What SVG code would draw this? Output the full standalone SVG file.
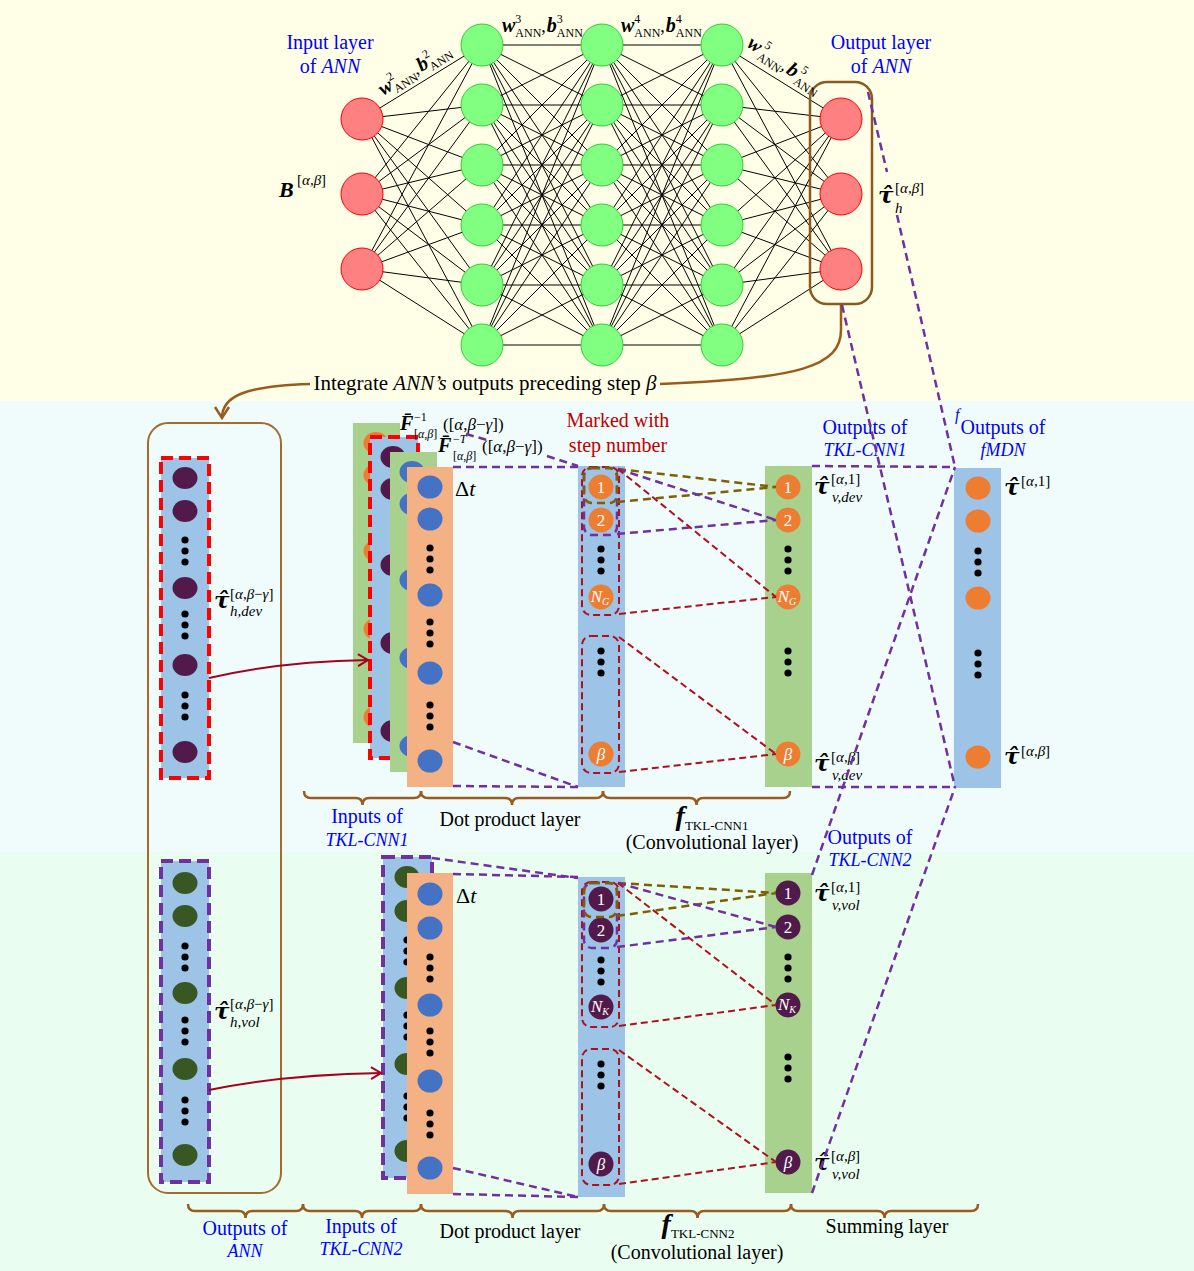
<svg xmlns="http://www.w3.org/2000/svg" width="1194" height="1271" viewBox="0 0 1194 1271">
<defs>
<style>
text{font-family:"Liberation Serif","Times New Roman",serif;fill:#000}
.lbl{font-size:20px}
.blue{fill:#0000FF}
.dred{fill:#C00000}
.it{font-style:italic}
.bi{font-style:italic;font-weight:bold}
.edge{stroke:#000;stroke-width:1;fill:none}
.nr{fill:#FF8080;stroke:#FF0000;stroke-width:1}
.ng{fill:#80FF80;stroke:#33CC33;stroke-width:1}
.pd{stroke:#7030A0;stroke-width:2.5;stroke-dasharray:8 5;fill:none}
.od{stroke:#7F6000;stroke-width:2.5;stroke-dasharray:8 5;fill:none}
.rd{stroke:#B0101C;stroke-width:2;stroke-dasharray:7 4;fill:none}
.colB{fill:#9DC3E6}
.colG{fill:#A9D18E}
.colO{fill:#F4B183}
.nO{fill:#ED7D31}
.nP{fill:#511A4B}
.nB{fill:#4472C4}
.nD{fill:#385723}
.dots{fill:#000}
.brown{stroke:#9A5B1E;stroke-width:2.5;fill:none}
.ntxt{fill:#fff;font-size:17px;text-anchor:middle}
.tau{font-family:"DejaVu Serif",serif;font-size:23px;font-weight:bold;font-style:italic}
.sup{font-size:15px;font-weight:normal;font-style:normal;text-anchor:start}
.sub{font-size:15px;font-weight:normal;font-style:italic;text-anchor:start}
.mid{text-anchor:middle}
</style>
<g id="d3"><circle cx="0" cy="0" r="3.6"/><circle cx="0" cy="11" r="3.6"/><circle cx="0" cy="22" r="3.6"/></g>
<marker id="arrR" markerUnits="userSpaceOnUse" markerWidth="16" markerHeight="16" refX="12" refY="8" orient="auto"><path d="M2,2 L12,8 L2,14" fill="none" stroke="#A50021" stroke-width="2"/></marker>
<marker id="arrB" markerUnits="userSpaceOnUse" markerWidth="18" markerHeight="18" refX="13" refY="9" orient="auto"><path d="M2,2 L13,9 L2,16" fill="none" stroke="#9A5B1E" stroke-width="2.5"/></marker>
</defs>

<!-- backgrounds -->
<rect x="0" y="0" width="1194" height="401" fill="#FFFFE8"/>
<rect x="0" y="401" width="1194" height="451" fill="#F0FCFC"/>
<rect x="0" y="852" width="1194" height="419" fill="#E9FEF0"/>

<!-- ANN edges -->
<g id="ann-edges" class="edge">
<path d="M362 119L482 45M362 119L482 105M362 119L482 165M362 119L482 225M362 119L482 285M362 119L482 345M362 194L482 45M362 194L482 105M362 194L482 165M362 194L482 225M362 194L482 285M362 194L482 345M362 269L482 45M362 269L482 105M362 269L482 165M362 269L482 225M362 269L482 285M362 269L482 345"/>
<path d="M482 45L602 45M482 45L602 105M482 45L602 165M482 45L602 225M482 45L602 285M482 45L602 345M482 105L602 45M482 105L602 105M482 105L602 165M482 105L602 225M482 105L602 285M482 105L602 345M482 165L602 45M482 165L602 105M482 165L602 165M482 165L602 225M482 165L602 285M482 165L602 345M482 225L602 45M482 225L602 105M482 225L602 165M482 225L602 225M482 225L602 285M482 225L602 345M482 285L602 45M482 285L602 105M482 285L602 165M482 285L602 225M482 285L602 285M482 285L602 345M482 345L602 45M482 345L602 105M482 345L602 165M482 345L602 225M482 345L602 285M482 345L602 345"/>
<path d="M602 45L722 45M602 45L722 105M602 45L722 165M602 45L722 225M602 45L722 285M602 45L722 345M602 105L722 45M602 105L722 105M602 105L722 165M602 105L722 225M602 105L722 285M602 105L722 345M602 165L722 45M602 165L722 105M602 165L722 165M602 165L722 225M602 165L722 285M602 165L722 345M602 225L722 45M602 225L722 105M602 225L722 165M602 225L722 225M602 225L722 285M602 225L722 345M602 285L722 45M602 285L722 105M602 285L722 165M602 285L722 225M602 285L722 285M602 285L722 345M602 345L722 45M602 345L722 105M602 345L722 165M602 345L722 225M602 345L722 285M602 345L722 345"/>
<path d="M722 45L841 119M722 45L841 194M722 45L841 269M722 105L841 119M722 105L841 194M722 105L841 269M722 165L841 119M722 165L841 194M722 165L841 269M722 225L841 119M722 225L841 194M722 225L841 269M722 285L841 119M722 285L841 194M722 285L841 269M722 345L841 119M722 345L841 194M722 345L841 269"/>
</g>

<!-- ANN nodes -->
<g id="ann-input"><circle class="nr" cx="362" cy="119" r="21"/><circle class="nr" cx="362" cy="194" r="21"/><circle class="nr" cx="362" cy="269" r="21"/></g>
<g id="ann-hidden1"><circle class="ng" cx="482" cy="45" r="21"/><circle class="ng" cx="482" cy="105" r="21"/><circle class="ng" cx="482" cy="165" r="21"/><circle class="ng" cx="482" cy="225" r="21"/><circle class="ng" cx="482" cy="285" r="21"/><circle class="ng" cx="482" cy="345" r="21"/></g>
<g id="ann-hidden2"><circle class="ng" cx="602" cy="45" r="21"/><circle class="ng" cx="602" cy="105" r="21"/><circle class="ng" cx="602" cy="165" r="21"/><circle class="ng" cx="602" cy="225" r="21"/><circle class="ng" cx="602" cy="285" r="21"/><circle class="ng" cx="602" cy="345" r="21"/></g>
<g id="ann-hidden3"><circle class="ng" cx="722" cy="45" r="21"/><circle class="ng" cx="722" cy="105" r="21"/><circle class="ng" cx="722" cy="165" r="21"/><circle class="ng" cx="722" cy="225" r="21"/><circle class="ng" cx="722" cy="285" r="21"/><circle class="ng" cx="722" cy="345" r="21"/></g>
<g id="ann-output"><circle class="nr" cx="841" cy="119" r="21"/><circle class="nr" cx="841" cy="194" r="21"/><circle class="nr" cx="841" cy="269" r="21"/>
<rect x="810" y="82" width="62" height="222" rx="17" fill="none" stroke="#8B5A1E" stroke-width="2.5"/></g>

<!-- ANN labels -->
<g id="ann-labels">
<text class="lbl blue mid" x="330" y="49">Input layer</text>
<text class="lbl blue mid" x="330" y="73">of <tspan class="it">ANN</tspan></text>
<text class="lbl blue mid" x="881" y="49">Output layer</text>
<text class="lbl blue mid" x="881" y="73">of <tspan class="it">ANN</tspan></text>
<text transform="translate(383,96) rotate(-32)"><tspan class="bi" font-size="20">w</tspan><tspan font-size="12" dy="-9">2</tspan><tspan font-size="12" dx="-6" dy="14">ANN</tspan><tspan font-size="18" dy="-5">, </tspan><tspan class="bi" font-size="20" dx="-3">b</tspan><tspan font-size="12" dy="-9">2</tspan><tspan font-size="12" dx="-6" dy="14">ANN</tspan></text>
<text x="502" y="32"><tspan class="bi" font-size="20">w</tspan><tspan font-size="12" dy="-9">3</tspan><tspan font-size="12" dx="-6" dy="14">ANN</tspan><tspan font-size="18" dy="-5">,</tspan><tspan class="bi" font-size="20" dx="1">b</tspan><tspan font-size="12" dy="-9">3</tspan><tspan font-size="12" dx="-6" dy="14">ANN</tspan></text>
<text x="621" y="32"><tspan class="bi" font-size="20">w</tspan><tspan font-size="12" dy="-9">4</tspan><tspan font-size="12" dx="-6" dy="14">ANN</tspan><tspan font-size="18" dy="-5">,</tspan><tspan class="bi" font-size="20" dx="1">b</tspan><tspan font-size="12" dy="-9">4</tspan><tspan font-size="12" dx="-6" dy="14">ANN</tspan></text>
<text transform="translate(746,46) rotate(34)"><tspan class="bi" font-size="20">w</tspan><tspan font-size="12" dy="-9" dx="2">5</tspan><tspan font-size="12" dx="-6" dy="14">ANN</tspan><tspan font-size="18" dy="-5">, </tspan><tspan class="bi" font-size="20" dx="-3">b</tspan><tspan font-size="12" dy="-9" dx="2">5</tspan><tspan font-size="12" dx="-6" dy="14">ANN</tspan></text>
<text x="279" y="197"><tspan class="bi" font-size="22">B</tspan><tspan class="sup" x="297" y="185">[<tspan class="it">α</tspan>,<tspan class="it">β</tspan>]</tspan></text>
<text x="878" y="203"><tspan class="tau">τ̂</tspan><tspan class="sup" x="895" y="193">[<tspan class="it">α</tspan>,<tspan class="it">β</tspan>]</tspan><tspan class="sub" x="895" y="213">h</tspan></text>
</g>

<!-- integrate connector -->
<g id="integrate">
<path class="brown" d="M841,305 L841,330 C841,366 800,379 660,384"/>
<path class="brown" d="M310,384 C245,386 222,396 222,418" marker-end="url(#arrB)"/>
<text x="485" y="390" class="mid" font-size="21">Integrate <tspan class="it">ANN’s</tspan> outputs preceding step <tspan class="it">β</tspan></text>
</g>

<!-- big left box: Outputs of ANN -->
<g id="ann-outputs-box"><rect x="148" y="423" width="133" height="770" rx="20" fill="none" stroke="#A86A2C" stroke-width="2"/></g>

<!-- left column dev -->
<g id="tau-h-dev">
<rect x="161" y="458" width="48" height="320" class="colB" stroke="#FF0000" stroke-width="4" stroke-dasharray="12 6"/>
<g class="nP"><ellipse cx="185" cy="478" rx="12.5" ry="11"/><ellipse cx="185" cy="511" rx="12.5" ry="11"/><ellipse cx="185" cy="588" rx="12.5" ry="11"/><ellipse cx="185" cy="665" rx="12.5" ry="11"/><ellipse cx="185" cy="752" rx="12.5" ry="11"/></g>
<g class="dots"><use href="#d3" x="185" y="540"/><use href="#d3" x="185" y="614"/><use href="#d3" x="185" y="695"/></g>
<text x="214" y="608"><tspan class="tau">τ̂</tspan><tspan class="sup" x="230" y="599">[<tspan class="it">α</tspan>,<tspan class="it">β</tspan>−<tspan class="it">γ</tspan>]</tspan><tspan class="sub" x="230" y="616">h,dev</tspan></text>
</g>

<!-- left column vol -->
<g id="tau-h-vol">
<rect x="161" y="861" width="48" height="321" class="colB" stroke="#7030A0" stroke-width="4" stroke-dasharray="12 6"/>
<g class="nD"><ellipse cx="185" cy="883" rx="12.5" ry="11"/><ellipse cx="185" cy="916" rx="12.5" ry="11"/><ellipse cx="185" cy="993" rx="12.5" ry="11"/><ellipse cx="185" cy="1069" rx="12.5" ry="11"/><ellipse cx="185" cy="1155" rx="12.5" ry="11"/></g>
<g class="dots"><use href="#d3" x="185" y="946"/><use href="#d3" x="185" y="1020"/><use href="#d3" x="185" y="1100"/></g>
<text x="214" y="1019"><tspan class="tau">τ̂</tspan><tspan class="sup" x="230" y="1009">[<tspan class="it">α</tspan>,<tspan class="it">β</tspan>−<tspan class="it">γ</tspan>]</tspan><tspan class="sub" x="230" y="1027">h,vol</tspan></text>
</g>

<!-- inputs of TKL-CNN1 stack -->
<g id="inputs-tkl-cnn1">
<rect x="353" y="423" width="47" height="320" class="colG"/>
<g class="nO"><ellipse cx="376" cy="443" rx="12.5" ry="11"/><ellipse cx="376" cy="475" rx="12.5" ry="11"/><ellipse cx="376" cy="551" rx="12.5" ry="11"/><ellipse cx="376" cy="629" rx="12.5" ry="11"/><ellipse cx="376" cy="717" rx="12.5" ry="11"/></g>
<rect x="370" y="437" width="48" height="321" class="colB" stroke="#FF0000" stroke-width="4" stroke-dasharray="12 6"/>
<g class="nP"><ellipse cx="393" cy="457" rx="12.5" ry="11"/><ellipse cx="393" cy="489" rx="12.5" ry="11"/><ellipse cx="393" cy="565" rx="12.5" ry="11"/><ellipse cx="393" cy="643" rx="12.5" ry="11"/><ellipse cx="393" cy="731" rx="12.5" ry="11"/></g>
<rect x="390" y="452" width="47" height="320" class="colG"/>
<g class="nB"><ellipse cx="412" cy="472" rx="12.5" ry="11"/><ellipse cx="412" cy="504" rx="12.5" ry="11"/><ellipse cx="412" cy="580" rx="12.5" ry="11"/><ellipse cx="412" cy="658" rx="12.5" ry="11"/><ellipse cx="412" cy="746" rx="12.5" ry="11"/></g>
<rect x="407" y="467" width="46" height="320" class="colO"/>
<g class="nB"><ellipse cx="430" cy="487" rx="12.5" ry="11.5"/><ellipse cx="430" cy="519" rx="12.5" ry="11.5"/><ellipse cx="430" cy="595" rx="12.5" ry="11.5"/><ellipse cx="430" cy="673" rx="12.5" ry="11.5"/><ellipse cx="430" cy="761" rx="12.5" ry="11.5"/></g>
<g class="dots"><use href="#d3" x="430" y="548"/><use href="#d3" x="430" y="622"/><use href="#d3" x="430" y="705"/></g>
<text x="455" y="496" font-size="22">Δ<tspan class="it">t</tspan></text>
<text x="400" y="430"><tspan class="bi" font-size="20">F̄</tspan><tspan font-size="12" x="414" y="421">−1</tspan><tspan font-size="12" x="414" y="438">[<tspan class="it">α</tspan>,<tspan class="it">β</tspan>]</tspan><tspan font-size="17" x="443" y="430">([<tspan class="it">α</tspan>,<tspan class="it">β</tspan>−<tspan class="it">γ</tspan>])</tspan></text>
<text x="438" y="452"><tspan class="bi" font-size="20">F̄</tspan><tspan font-size="12" x="453" y="443">−<tspan class="it">T</tspan></tspan><tspan font-size="12" x="453" y="460">[<tspan class="it">α</tspan>,<tspan class="it">β</tspan>]</tspan><tspan font-size="17" x="482" y="452">([<tspan class="it">α</tspan>,<tspan class="it">β</tspan>−<tspan class="it">γ</tspan>])</tspan></text>
</g>

<!-- inputs of TKL-CNN2 stack -->
<g id="inputs-tkl-cnn2">
<rect x="383" y="857" width="49" height="321" class="colB" stroke="#7030A0" stroke-width="4" stroke-dasharray="12 6"/>
<g class="nD"><ellipse cx="407" cy="877" rx="12.5" ry="11"/><ellipse cx="407" cy="911" rx="12.5" ry="11"/><ellipse cx="407" cy="988" rx="12.5" ry="11"/><ellipse cx="407" cy="1064" rx="12.5" ry="11"/><ellipse cx="407" cy="1151" rx="12.5" ry="11"/></g>
<g class="dots"><use href="#d3" x="407" y="940"/><use href="#d3" x="407" y="1015"/><use href="#d3" x="407" y="1096"/></g>
<rect x="407" y="873" width="46" height="321" class="colO"/>
<g class="nB"><ellipse cx="430" cy="894" rx="12.5" ry="11.5"/><ellipse cx="430" cy="928" rx="12.5" ry="11.5"/><ellipse cx="430" cy="1005" rx="12.5" ry="11.5"/><ellipse cx="430" cy="1081" rx="12.5" ry="11.5"/><ellipse cx="430" cy="1168" rx="12.5" ry="11.5"/></g>
<g class="dots"><use href="#d3" x="430" y="957"/><use href="#d3" x="430" y="1031"/><use href="#d3" x="430" y="1113"/></g>
<text x="456" y="903" font-size="22">Δ<tspan class="it">t</tspan></text>
</g>

<!-- dot product layer 1 -->
<g id="dot-product-1">
<rect x="578" y="466" width="47" height="321" class="colB"/>
<g class="nO"><circle cx="601" cy="487" r="12.5"/><circle cx="601" cy="520" r="12.5"/><circle cx="601" cy="597" r="12.5"/><circle cx="601" cy="754" r="12.5"/></g>
<g class="dots"><use href="#d3" x="601" y="549"/><use href="#d3" x="601" y="651"/></g>
<text x="601" y="493" class="ntxt">1</text>
<text x="601" y="526" class="ntxt">2</text>
<text x="600" y="602" class="ntxt it" font-size="15">N<tspan font-size="10" dy="3">G</tspan></text>
<text x="601" y="760" class="ntxt it">β</text>
<rect x="582" y="467" width="37" height="148" rx="9" class="rd"/>
<rect x="582" y="636" width="37" height="137" rx="9" class="rd"/>
<rect x="584" y="468" width="33" height="67" rx="8" class="pd" stroke-width="2"/>
<rect x="584" y="468" width="33" height="35" rx="8" class="od" stroke-width="2"/>
<text x="618" y="427" class="lbl dred mid">Marked with</text>
<text x="618" y="452" class="lbl dred mid">step number</text>
</g>

<!-- conv layer 1 outputs -->
<g id="tkl-cnn1-out">
<rect x="765" y="466" width="47" height="321" class="colG"/>
<g class="nO"><circle cx="788" cy="487" r="12.5"/><circle cx="788" cy="520" r="12.5"/><circle cx="788" cy="597" r="12.5"/><circle cx="788" cy="754" r="12.5"/></g>
<g class="dots"><use href="#d3" x="788" y="549"/><use href="#d3" x="788" y="651"/></g>
<text x="788" y="493" class="ntxt">1</text>
<text x="788" y="526" class="ntxt">2</text>
<text x="787" y="602" class="ntxt it" font-size="15">N<tspan font-size="10" dy="3">G</tspan></text>
<text x="788" y="760" class="ntxt it">β</text>
<text x="814" y="494"><tspan class="tau">τ̂</tspan><tspan class="sup" x="831" y="484">[<tspan class="it">α</tspan>,1]</tspan><tspan class="sub" x="832" y="502">v,dev</tspan></text>
<text x="814" y="771"><tspan class="tau">τ̂</tspan><tspan class="sup" x="831" y="762">[<tspan class="it">α</tspan>,<tspan class="it">β</tspan>]</tspan><tspan class="sub" x="832" y="780">v,dev</tspan></text>
<text x="865" y="434" class="lbl blue mid">Outputs of</text>
<text x="865" y="456" class="blue it mid" font-size="18">TKL-CNN1</text>
</g>

<!-- fMDN outputs -->
<g id="fmdn-out">
<rect x="954" y="468" width="47" height="320" class="colB"/>
<g class="nO"><ellipse cx="978" cy="488" rx="12.5" ry="11.5"/><ellipse cx="978" cy="521" rx="12.5" ry="11.5"/><ellipse cx="978" cy="598" rx="12.5" ry="11.5"/><ellipse cx="978" cy="757" rx="12.5" ry="11.5"/></g>
<g class="dots"><use href="#d3" x="978" y="551"/><use href="#d3" x="978" y="653"/></g>
<text x="1004" y="495"><tspan class="tau">τ̂</tspan><tspan class="sup" x="1021" y="486">[<tspan class="it">α</tspan>,1]</tspan></text>
<text x="1004" y="764"><tspan class="tau">τ̂</tspan><tspan class="sup" x="1021" y="756">[<tspan class="it">α</tspan>,<tspan class="it">β</tspan>]</tspan></text>
<text x="1003" y="434" class="lbl blue mid">Outputs of</text>
<text x="1003" y="456" class="blue it mid" font-size="18">fMDN</text>
<text x="955" y="420" class="blue it" font-size="16">f</text>
</g>

<!-- dot product layer 2 -->
<g id="dot-product-2">
<rect x="578" y="877" width="47" height="320" class="colB"/>
<g class="nP"><circle cx="601" cy="899" r="12.5"/><circle cx="601" cy="930" r="12.5"/><circle cx="601" cy="1007" r="12.5"/><circle cx="601" cy="1164" r="12.5"/></g>
<g class="dots"><use href="#d3" x="601" y="960"/><use href="#d3" x="601" y="1064"/></g>
<text x="601" y="905" class="ntxt">1</text>
<text x="601" y="936" class="ntxt">2</text>
<text x="600" y="1012" class="ntxt it" font-size="15">N<tspan font-size="10" dy="3">K</tspan></text>
<text x="601" y="1170" class="ntxt it">β</text>
<rect x="582" y="882" width="37" height="145" rx="9" class="rd"/>
<rect x="582" y="1049" width="37" height="136" rx="9" class="rd"/>
<rect x="584" y="883" width="33" height="65" rx="8" class="pd" stroke-width="2"/>
<rect x="584" y="883" width="33" height="34" rx="8" class="od" stroke-width="2"/>
</g>

<!-- conv layer 2 outputs -->
<g id="tkl-cnn2-out">
<rect x="765" y="873" width="47" height="320" class="colG"/>
<g class="nP"><circle cx="788" cy="893" r="12.5"/><circle cx="788" cy="927" r="12.5"/><circle cx="788" cy="1005" r="12.5"/><circle cx="788" cy="1162" r="12.5"/></g>
<g class="dots"><use href="#d3" x="788" y="957"/><use href="#d3" x="788" y="1057"/></g>
<text x="788" y="899" class="ntxt">1</text>
<text x="788" y="933" class="ntxt">2</text>
<text x="787" y="1010" class="ntxt it" font-size="15">N<tspan font-size="10" dy="3">K</tspan></text>
<text x="788" y="1168" class="ntxt it">β</text>
<text x="814" y="901"><tspan class="tau">τ̂</tspan><tspan class="sup" x="831" y="892">[<tspan class="it">α</tspan>,1]</tspan><tspan class="sub" x="832" y="910">v,vol</tspan></text>
<text x="814" y="1170"><tspan class="tau">τ̂</tspan><tspan class="sup" x="831" y="1161">[<tspan class="it">α</tspan>,<tspan class="it">β</tspan>]</tspan><tspan class="sub" x="832" y="1179">v,vol</tspan></text>
<text x="870" y="844" class="lbl blue mid">Outputs of</text>
<text x="870" y="866" class="blue it mid" font-size="18">TKL-CNN2</text>
</g>

<!-- connectors -->
<g id="connectors">
<path class="pd" d="M868,92 L887,172 M897,215 L955,467"/>
<path class="pd" d="M842,305 L955,787"/>
<path class="pd" d="M812,466 L955,467"/>
<path class="pd" d="M812,787 L955,787"/>
<path class="pd" d="M812,875 L955,467"/>
<path class="pd" d="M812,1193 L955,787"/>
<path class="pd" d="M466,434 L487,440 M547,456 L578,466"/>
<path class="pd" d="M453,467 L578,467"/>
<path class="pd" d="M453,742 L578,787"/>
<path class="pd" d="M453,786 L578,787"/>
<path class="pd" d="M432,858 L578,878"/>
<path class="pd" d="M453,874 L578,877"/>
<path class="pd" d="M453,1168 L578,1197"/>
<path class="pd" d="M453,1194 L578,1197"/>
<path class="od" d="M618,469 L776,487 M617,502 L776,487"/>
<path class="pd" d="M618,469 L776,520 M617,534 L776,520"/>
<path class="rd" d="M618,469 L776,597 M619,614 L776,597"/>
<path class="rd" d="M619,637 L776,754 M619,772 L776,754"/>
<path class="od" d="M618,883 L776,893 M617,916 L776,893"/>
<path class="pd" d="M618,883 L776,927 M617,947 L776,927"/>
<path class="rd" d="M618,883 L776,1005 M619,1026 L776,1005"/>
<path class="rd" d="M619,1050 L776,1162 M619,1184 L776,1162"/>
<path d="M209,678 C260,666 310,661 368,660" fill="none" stroke="#A50021" stroke-width="2" marker-end="url(#arrR)"/>
<path d="M209,1090 C262,1079 320,1074 381,1073" fill="none" stroke="#A50021" stroke-width="2" marker-end="url(#arrR)"/>
</g>

<!-- braces and layer labels -->
<g id="layer-braces" class="brown">
<path d="M304,791 Q304,798 311,798 L355.5,798 Q362.5,798 362.5,805 Q362.5,798 369.5,798 L414,798 Q421,798 421,791"/>
<path d="M421,791 Q421,798 428,798 L505,798 Q512,798 512,805 Q512,798 519,798 L596,798 Q603,798 603,791"/>
<path d="M603,791 Q603,798 610,798 L689.5,798 Q696.5,798 696.5,805 Q696.5,798 703.5,798 L783,798 Q790,798 790,791"/>
<path d="M188,1204 Q188,1211 195,1211 L238.5,1211 Q245.5,1211 245.5,1218 Q245.5,1211 252.5,1211 L296,1211 Q303,1211 303,1204"/>
<path d="M303,1204 Q303,1211 310,1211 L355,1211 Q362,1211 362,1218 Q362,1211 369,1211 L414,1211 Q421,1211 421,1204"/>
<path d="M421,1204 Q421,1211 428,1211 L505.5,1211 Q512.5,1211 512.5,1218 Q512.5,1211 519.5,1211 L597,1211 Q604,1211 604,1204"/>
<path d="M604,1204 Q604,1211 611,1211 L690.5,1211 Q697.5,1211 697.5,1218 Q697.5,1211 704.5,1211 L784,1211 Q791,1211 791,1204"/>
<path d="M791,1204 Q791,1211 798,1211 L877.5,1211 Q884.5,1211 884.5,1218 Q884.5,1211 891.5,1211 L971,1211 Q978,1211 978,1204"/>
</g>
<g id="layer-labels">
<text x="367" y="823" class="lbl blue mid">Inputs of</text>
<text x="367" y="846" class="blue it mid" font-size="18">TKL-CNN1</text>
<text x="510" y="826" class="lbl mid">Dot product layer</text>
<text x="712" y="825" class="mid"><tspan class="bi" font-size="28">f</tspan><tspan font-size="13" dy="5">TKL-CNN1</tspan></text>
<text x="712" y="849" class="lbl mid">(Convolutional layer)</text>
<text x="245" y="1235" class="lbl blue mid">Outputs of</text>
<text x="245" y="1257" class="blue it mid" font-size="18">ANN</text>
<text x="361" y="1233" class="lbl blue mid">Inputs of</text>
<text x="361" y="1255" class="blue it mid" font-size="18">TKL-CNN2</text>
<text x="510" y="1238" class="lbl mid">Dot product layer</text>
<text x="698" y="1233" class="mid"><tspan class="bi" font-size="28">f</tspan><tspan font-size="13" dy="5">TKL-CNN2</tspan></text>
<text x="697" y="1259" class="lbl mid">(Convolutional layer)</text>
<text x="887" y="1233" class="lbl mid">Summing layer</text>
</g>
</svg>
